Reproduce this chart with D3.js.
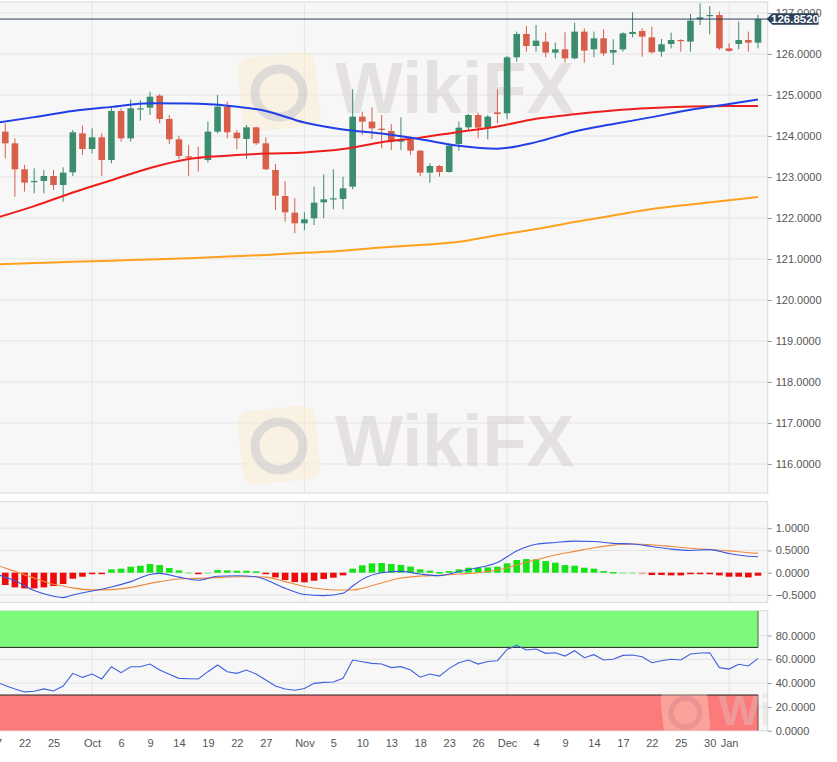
<!DOCTYPE html>
<html>
<head>
<meta charset="utf-8">
<script src="https://cdn.jsdelivr.net/npm/d3@7"></script>
<style>
body { margin: 0; background: #fff; }
svg { display: block; font-family: "Liberation Sans", Arial, sans-serif; }
</style>
</head>
<body>
<svg id="chart" width="837" height="762"></svg>
<script>
// EUR/JPY daily, 17 Sep 2020 - 6 Jan 2021 (weekdays)
var firstDay = "2020-09-17";
var lastDay = "2021-01-06";

var openP = [124.35,124.106,123.821,123.187,122.878,122.903,123.025,122.805,123.114,124.065,
  123.683,123.968,123.415,124.610,123.943,124.659,124.691,124.984,124.415,123.919,
  123.504,123.480,123.415,124.106,124.716,124.081,123.927,124.211,123.821,123.171,
  122.537,122.130,121.870,121.992,122.382,122.455,122.464,122.764,124.472,124.350,
  124.179,124.122,123.862,123.919,123.642,123.106,123.268,123.122,123.805,124.211,
  124.512,124.203,124.577,124.553,125.919,126.488,126.195,126.301,126.033,126.114,
  125.894,126.545,126.114,126.382,126.033,126.114,126.488,126.561,126.406,126.057,
  126.244,126.341,126.301,126.846,126.927,126.951,126.138,126.244,126.341,126.276];
var highP = [124.55,124.309,123.943,123.293,123.211,123.171,123.171,123.236,124.146,124.252,
  124.187,124.065,124.716,124.675,124.894,124.878,125.081,125.024,124.512,124.008,
  123.781,123.740,124.350,125.000,124.838,124.146,124.268,124.228,123.968,123.317,
  122.903,122.480,122.138,122.764,123.065,123.187,123.008,125.138,124.594,124.699,
  124.512,124.293,124.455,123.984,123.659,123.333,123.293,123.821,124.350,124.537,
  124.569,124.512,125.138,125.951,126.545,126.683,126.707,126.520,126.276,126.528,
  126.764,126.626,126.545,126.602,126.358,126.528,127.016,126.626,126.667,126.366,
  126.520,126.358,126.976,127.236,127.171,127.032,126.260,126.789,126.545,126.951];
var lowP = [123.95,123.455,122.520,122.642,122.602,122.602,122.683,122.398,123.025,123.537,
  123.577,123.025,123.333,123.862,123.862,124.374,124.512,124.309,123.805,123.431,
  123.025,123.130,123.350,124.065,123.943,123.675,123.439,123.781,123.171,122.195,
  121.911,121.626,121.707,121.830,121.992,122.211,122.211,122.699,124.024,123.919,
  123.699,123.659,123.659,123.537,123.024,122.862,123.008,123.106,123.642,124.163,
  123.943,123.919,124.309,124.407,125.813,126.057,126.057,125.919,125.894,125.789,
  125.870,125.789,125.919,125.951,125.732,126.057,126.406,125.935,126.016,125.935,
  126.138,126.057,126.057,126.707,126.480,126.098,126.057,126.114,126.057,126.138];
var closeP = [124.10,123.821,123.187,122.862,122.903,123.025,122.805,123.106,124.090,123.683,
  123.968,123.415,124.610,123.943,124.675,124.675,124.959,124.415,123.919,123.512,
  123.472,123.447,124.106,124.716,124.090,123.943,124.211,123.821,123.187,122.545,
  122.138,121.870,121.968,122.374,122.455,122.480,122.724,124.472,124.350,124.187,
  124.146,123.862,123.919,123.642,123.106,123.268,123.122,123.764,124.203,124.512,
  124.203,124.472,124.537,125.919,126.488,126.195,126.325,126.033,126.114,125.894,
  126.545,126.081,126.382,126.016,126.098,126.504,126.537,126.423,126.041,126.236,
  126.341,126.317,126.813,126.894,126.951,126.138,126.073,126.341,126.276,126.852];
var lastPrice = 126.852;

// moving averages, read at these candle numbers
var maIdx = [0,4,8,12,16,20,24,28,32,36,40,44,48,52,56,60,64,68,72,76,79];
var sma20 = [124.32,124.46,124.61,124.71,124.80,124.79,124.74,124.61,124.33,124.16,124.06,
  123.92,123.76,123.69,123.85,124.11,124.29,124.46,124.64,124.78,124.89];
var sma50 = [122.00,122.29,122.62,122.92,123.22,123.44,123.52,123.57,123.60,123.68,123.85,
  123.96,124.10,124.23,124.42,124.53,124.62,124.68,124.72,124.73,124.73];
var sma200 = [120.87,120.90,120.93,120.96,120.99,121.02,121.06,121.10,121.15,121.20,121.28,
  121.34,121.42,121.58,121.73,121.90,122.06,122.22,122.33,122.43,122.51];

// MACD
var macdIdx = [0,2,4,6,7,8,10,12,14,16,17,19,21,23,25,27,28,30,32,34,36,37,38,40,42,44,
  46,48,50,52,54,56,58,60,62,64,66,68,70,72,74,76,78,79];
var macdLine = [-0.03,-0.18,-0.40,-0.53,-0.56,-0.50,-0.41,-0.32,-0.20,-0.04,-0.015,-0.10,-0.17,
  -0.08,-0.068,-0.09,-0.16,-0.35,-0.49,-0.515,-0.46,-0.30,-0.15,0.0,0.03,-0.03,-0.065,0.02,0.11,
  0.23,0.49,0.64,0.68,0.71,0.70,0.66,0.645,0.59,0.53,0.50,0.52,0.43,0.37,0.36];
var signalLine = [0.18,0.03,-0.12,-0.26,-0.30,-0.34,-0.385,-0.38,-0.33,-0.24,-0.20,-0.14,-0.127,
  -0.11,-0.09,-0.09,-0.10,-0.20,-0.31,-0.37,-0.39,-0.39,-0.35,-0.23,-0.12,-0.075,-0.06,-0.03,0.0,
  0.06,0.17,0.29,0.40,0.48,0.56,0.62,0.645,0.63,0.59,0.55,0.52,0.49,0.45,0.434];
var macdHist = [-0.22,-0.277,-0.33,-0.352,-0.352,-0.33,-0.30,-0.255,-0.135,-0.09,
  -0.015,-0.015,0.075,0.09,0.135,0.157,0.195,0.172,0.105,0.052,
  0.007,-0.015,0.004,0.06,0.052,0.045,0.045,0.03,-0.015,-0.105,
  -0.165,-0.21,-0.217,-0.18,-0.142,-0.112,-0.06,0.09,0.165,0.21,
  0.217,0.195,0.175,0.138,0.075,0.045,0.015,0.037,0.075,0.112,
  0.112,0.12,0.135,0.21,0.285,0.307,0.30,0.262,0.225,0.172,
  0.157,0.112,0.09,0.037,0.015,0.007,0.003,-0.007,-0.052,-0.052,
  -0.06,-0.06,-0.03,-0.022,-0.015,-0.06,-0.09,-0.09,-0.105,-0.067];

// RSI
var rsi = [41,38,35.0,32.6,33.1,35.1,33.4,37.5,48.2,44.8,
  47.6,43.5,53.8,48.8,53.8,53.8,56.0,51.0,47.4,44.0,
  43.7,43.5,49.6,55.2,49.6,48.2,51.0,47.6,42.6,37.5,
  35.1,34.0,35.4,39.8,40.6,40.9,44.0,59.4,58.0,56.6,
  56.0,53.0,53.8,51.0,45.0,47.6,45.9,52.4,57.1,59.4,
  56.0,58.2,58.8,68.3,71.7,67.8,68.6,65.0,65.5,62.7,
  67.2,61.3,63.9,59.4,60.0,63.3,63.6,62.2,57.1,58.8,
  60.0,59.4,64.4,65.3,65.5,53.0,51.8,55.8,54.4,60.8];

var tickDays = ["2020-09-17","2020-09-22","2020-09-25","2020-10-01","2020-10-06","2020-10-09",
  "2020-10-14","2020-10-19","2020-10-22","2020-10-27","2020-11-02","2020-11-05","2020-11-10",
  "2020-11-13","2020-11-18","2020-11-23","2020-11-26","2020-12-01","2020-12-04","2020-12-09",
  "2020-12-14","2020-12-17","2020-12-22","2020-12-25","2020-12-30","2021-01-01"];
var tickLabels = ["17","22","25","Oct","6","9","14","19","22","27","Nov","5","10","13","18",
  "23","26","Dec","4","9","14","17","22","25","30","Jan"];
var monthDays = ["2020-10-01","2020-11-02","2020-12-01","2021-01-01"];

var priceTicks = [116,117,118,119,120,121,122,123,124,125,126,127];
var macdTicks = [-0.5,0,0.5,1];
var rsiTicks = [0,20,40,60,80];

// layout
var plotR = 767.7;
var main = {top: 2, bottom: 493};
var macdP = {top: 501.7, bottom: 602.3};
var rsiP = {top: 610.7, bottom: 730.7};
var upCol = "#3b8d6d", downCol = "#d8604b";
var gridCol = "#e4e4e4", txtCol = "#555";

var fmtDay = d3.utcFormat("%Y-%m-%d");
var days = d3.utcDays(new Date(firstDay), d3.utcDay.offset(new Date(lastDay), 1))
  .filter(function(d) { var w = d.getUTCDay(); return w !== 0 && w !== 6; })
  .map(fmtDay);

var x = d3.scalePoint().domain(days).range([-4.4, 758]);
var y = d3.scaleLinear().domain([115.317, 127.268]).range([492, 2]);
var yM = d3.scaleLinear().domain([-0.665, 1.596]).range([macdP.bottom, macdP.top]);
var yR = d3.scaleLinear().domain([0, 100]).range([rsiP.bottom, rsiP.top + 1]);

var svg = d3.select("#chart");
var defs = svg.append("defs");
[["clipMain", main], ["clipMacd", macdP], ["clipRsi", rsiP]].forEach(function(c) {
  defs.append("clipPath").attr("id", c[0]).append("rect")
    .attr("x", 0).attr("y", c[1].top).attr("width", plotR).attr("height", c[1].bottom - c[1].top);
});

function panel(p) {
  svg.append("rect").attr("x", -1).attr("y", p.top).attr("width", plotR + 1)
    .attr("height", p.bottom - p.top).attr("fill", "#f7f7f7").attr("stroke", "#d8d8d8");
}
panel(main); panel(macdP); panel(rsiP);

// month separators
[main, macdP, rsiP].forEach(function(p) {
  svg.append("g").selectAll("line").data(monthDays).enter().append("line")
    .attr("x1", function(d) { return x(d); }).attr("x2", function(d) { return x(d); })
    .attr("y1", p.top).attr("y2", p.bottom).attr("stroke", gridCol);
});

function hGrid(scale, ticks) {
  svg.append("g").selectAll("line").data(ticks).enter().append("line")
    .attr("x1", 0).attr("x2", plotR)
    .attr("y1", function(d) { return scale(d); }).attr("y2", function(d) { return scale(d); })
    .attr("stroke", gridCol);
}
hGrid(y, priceTicks);
hGrid(yM, macdTicks);
hGrid(yR, [20, 40, 60, 80]);

// watermarks
function watermark(parent, tx, ty, s, op, word) {
  var g = parent.append("g").attr("transform", "translate(" + tx + "," + ty + ") scale(" + s + ")")
    .attr("opacity", op);
  g.append("rect").attr("x", 0).attr("y", 0).attr("width", 78).attr("height", 74).attr("rx", 12)
    .attr("fill", "#fbeed3").attr("transform", "rotate(-6 39 37)");
  g.append("circle").attr("cx", 39).attr("cy", 38).attr("r", 24).attr("fill", "none")
    .attr("stroke", "#c9c4c0").attr("stroke-width", 9);
  g.append("text").attr("x", 95).attr("y", 58).attr("font-size", 72).attr("font-weight", "bold")
    .attr("fill", "#d6d0cf").text(word);
}
watermark(svg, 240, 55, 1, 0.55, "WikiFX");
watermark(svg, 240, 408, 1, 0.55, "WikiFX");

// candles
var cg = svg.append("g").attr("clip-path", "url(#clipMain)");
var bw = 6.6;
var candles = cg.selectAll("g.c").data(days).enter().append("g").attr("class", "c");
candles.append("line")
  .attr("x1", function(d) { return x(d); }).attr("x2", function(d) { return x(d); })
  .attr("y1", function(d, i) { return y(highP[i]); }).attr("y2", function(d, i) { return y(lowP[i]); })
  .attr("stroke", function(d, i) { return closeP[i] >= openP[i] ? upCol : downCol; })
  .attr("stroke-width", 1);
candles.append("rect")
  .attr("x", function(d) { return x(d) - bw / 2; }).attr("width", bw)
  .attr("y", function(d, i) { return y(Math.max(openP[i], closeP[i])); })
  .attr("height", function(d, i) { return Math.max(1.2, Math.abs(y(openP[i]) - y(closeP[i]))); })
  .attr("fill", function(d, i) { return closeP[i] >= openP[i] ? upCol : downCol; });

function maLine(g, idx, vals, scale, col, w) {
  var line = d3.line().curve(d3.curveMonotoneX)
    .x(function(d, k) { return x(days[idx[k]]); })
    .y(function(d) { return scale(d); });
  g.append("path").datum(vals).attr("d", line).attr("fill", "none")
    .attr("stroke", col).attr("stroke-width", w);
}
maLine(cg, maIdx, sma200, y, "#ffa11f", 2);
maLine(cg, maIdx, sma50, y, "#ee1d1d", 2);
maLine(cg, maIdx, sma20, y, "#2040e6", 2);

// last price line
svg.append("line").attr("x1", 0).attr("x2", plotR).attr("y1", y(lastPrice)).attr("y2", y(lastPrice))
  .attr("stroke", "#2b3f58").attr("stroke-width", 1);

// MACD
var mg = svg.append("g").attr("clip-path", "url(#clipMacd)");
mg.selectAll("rect").data(days).enter().append("rect")
  .attr("x", function(d) { return x(d) - bw / 2; }).attr("width", bw)
  .attr("y", function(d, i) { return macdHist[i] >= 0 ? yM(macdHist[i]) : yM(0); })
  .attr("height", function(d, i) { return Math.max(1.5, Math.abs(yM(macdHist[i]) - yM(0))); })
  .attr("fill", function(d, i) { return macdHist[i] >= 0 ? "#14e314" : "#ee0a0a"; })
  .attr("opacity", function(d, i) { return Math.abs(macdHist[i]) < 0.012 ? 0.35 : 1; });
maLine(mg, macdIdx, signalLine, yM, "#f08a3a", 1.1);
maLine(mg, macdIdx, macdLine, yM, "#3a56e0", 1.1);

// RSI
var rg = svg.append("g").attr("clip-path", "url(#clipRsi)");
var bandR = x(days[days.length - 1]);
rg.append("rect").attr("x", -1).attr("y", yR(100) - 1).attr("width", bandR + 1)
  .attr("height", yR(70) - yR(100) + 1).attr("fill", "#7dfa7b");
rg.append("rect").attr("x", -1).attr("y", yR(30)).attr("width", bandR + 1)
  .attr("height", yR(0) - yR(30)).attr("fill", "#fb7b7b");
rg.append("line").attr("x1", 0).attr("x2", bandR).attr("y1", yR(70)).attr("y2", yR(70)).attr("stroke", "#222");
rg.append("line").attr("x1", 0).attr("x2", bandR).attr("y1", yR(30)).attr("y2", yR(30)).attr("stroke", "#222");
rg.append("line").attr("x1", bandR).attr("x2", bandR).attr("y1", yR(100) - 1).attr("y2", yR(70))
  .attr("stroke", "#4a6a4a");
rg.append("line").attr("x1", bandR).attr("x2", bandR).attr("y1", yR(30)).attr("y2", yR(0))
  .attr("stroke", "#6a4a4a");
rg.append("path").datum(rsi)
  .attr("d", d3.line().x(function(d, i) { return x(days[i]); }).y(function(d) { return yR(d); }))
  .attr("fill", "none").attr("stroke", "#4060dc").attr("stroke-width", 1.1);
// faint watermark cut by the panel edge
watermark(rg, 662, 690, 0.6, 0.35, "Wi");

// right axes
function rightAxis(scale, ticks) {
  var g = svg.append("g").attr("transform", "translate(" + plotR + ",0)")
    .call(d3.axisRight(scale).tickValues(ticks).tickFormat(d3.format(".4f")).tickSize(4).tickPadding(4));
  g.select(".domain").remove();
  g.selectAll(".tick line").attr("stroke", "#999");
  g.selectAll(".tick text").attr("fill", txtCol).attr("font-size", 11)
    .attr("font-family", "Liberation Sans, Arial, sans-serif");
}
rightAxis(y, priceTicks);
rightAxis(yM, macdTicks);
rightAxis(yR, rsiTicks);

// bottom axis labels
var xa = svg.append("g").attr("transform", "translate(0," + rsiP.bottom + ")")
  .call(d3.axisBottom(x).tickValues(tickDays)
    .tickFormat(function(d) { return tickLabels[tickDays.indexOf(d)]; })
    .tickSize(0).tickPadding(9));
xa.select(".domain").remove();
xa.selectAll(".tick text").attr("fill", txtCol).attr("font-size", 11)
  .attr("font-family", "Liberation Sans, Arial, sans-serif");

// last price tag
var ly = y(lastPrice);
var tag = svg.append("g");
tag.append("path")
  .attr("d", "M" + (plotR - 1) + "," + ly + " L" + (plotR + 4.5) + "," + (ly - 5.8) +
    " L818.5," + (ly - 5.8) + " L818.5," + (ly + 5.8) + " L" + (plotR + 4.5) + "," + (ly + 5.8) + " Z")
  .attr("fill", "#2b3f58");
tag.append("text").attr("x", 795).attr("y", ly).attr("dy", "0.36em").attr("text-anchor", "middle")
  .attr("fill", "#fff").attr("font-size", 11.5).attr("font-weight", "bold").text(d3.format(".4f")(lastPrice));
</script>
</body>
</html>
